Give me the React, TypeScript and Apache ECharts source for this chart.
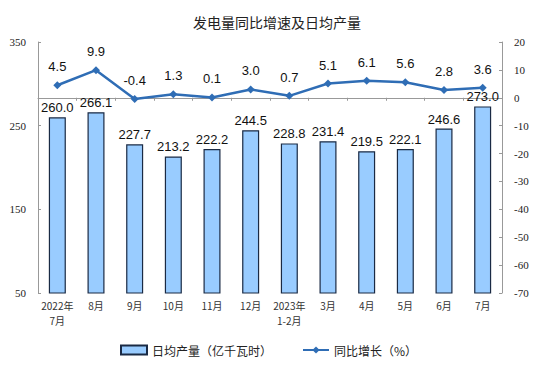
import React, { useEffect, useRef } from "react";
import * as echarts from "echarts";

const categories = ["2022年\n7月", "8月", "9月", "10月", "11月", "12月", "2023年\n1-2月", "3月", "4月", "5月", "6月", "7月"];
const dailyOutput = [260.0, 266.1, 227.7, 213.2, 222.2, 244.5, 228.8, 231.4, 219.5, 222.1, 246.6, 273.0];
const yoyGrowth = [4.5, 9.9, -0.4, 1.3, 0.1, 3.0, 0.7, 5.1, 6.1, 5.6, 2.8, 3.6];
const barName = "日均产量（亿千瓦时）";
const lineName = "同比增长（%）";

export default function App() {
  const ref = useRef<HTMLDivElement>(null);
  useEffect(() => {
    const chart = echarts.init(ref.current!, null, { renderer: "svg" });
    chart.setOption({
      animation: false,
      backgroundColor: "#ffffff",
      title: {
        text: "发电量同比增速及日均产量",
        left: "center",
        top: 10,
        textStyle: { fontSize: 14, fontWeight: "normal", color: "#222", fontFamily: "Noto Sans CJK SC" },
      },
      legend: {
        bottom: 24,
        left: 115,
        itemWidth: 26,
        itemHeight: 9,
        itemGap: 30,
        textStyle: { fontSize: 12, color: "#222", fontFamily: "Noto Sans CJK SC" },
        data: [
          { name: barName, icon: "rect" },
          { name: lineName },
        ],
      },
      grid: { left: 38, right: 52, top: 42, bottom: 92 },
      xAxis: {
        type: "category",
        data: categories,
        axisLine: { lineStyle: { color: "#999" } },
        axisTick: { show: true, alignWithLabel: false, lineStyle: { color: "#999" }, length: 3 },
        axisLabel: { fontSize: 10, color: "#333", lineHeight: 15, margin: 5, fontFamily: "Noto Sans CJK SC", interval: 0 },
      },
      yAxis: [
        {
          type: "value",
          min: 50,
          max: 350,
          interval: 100,
          splitLine: { show: false },
          axisLine: { show: true, lineStyle: { color: "#999" } },
          axisTick: { show: true, inside: true, length: 3, lineStyle: { color: "#999" } },
          axisLabel: { fontSize: 11, color: "#222", fontFamily: "Liberation Serif", margin: 12 },
        },
        {
          type: "value",
          min: -70,
          max: 20,
          interval: 10,
          splitLine: { show: false },
          axisLine: { show: true, lineStyle: { color: "#999" } },
          axisTick: { show: true, inside: true, length: 3, lineStyle: { color: "#999" } },
          axisLabel: { fontSize: 11, color: "#222", fontFamily: "Liberation Serif", margin: 12 },
        },
      ],
      series: [
        {
          name: barName,
          type: "bar",
          data: dailyOutput,
          yAxisIndex: 0,
          barWidth: 17,
          itemStyle: { color: "#99CCFF", borderColor: "#1a2a44", borderWidth: 1.2 },
          label: {
            show: true,
            position: "top",
            distance: 3,
            formatter: (p: any) => Number(p.value).toFixed(1),
            fontSize: 13,
            color: "#111",
            fontFamily: "Liberation Sans",
          },
          z: 1,
        },
        {
          name: lineName,
          type: "line",
          data: yoyGrowth,
          yAxisIndex: 1,
          symbol: "diamond",
          symbolSize: 8,
          lineStyle: { color: "#2F6DB5", width: 2.5 },
          itemStyle: { color: "#2F6DB5" },
          label: {
            show: true,
            position: "top",
            distance: 8,
            formatter: (p: any) => Number(p.value).toFixed(1),
            fontSize: 13,
            color: "#111",
            fontFamily: "Liberation Sans",
          },
          z: 3,
        },
      ],
    });
    return () => chart.dispose();
  }, []);
  return <div ref={ref} style={{ width: 554, height: 385, position: "absolute", left: 0, top: 0 }} />;
}
